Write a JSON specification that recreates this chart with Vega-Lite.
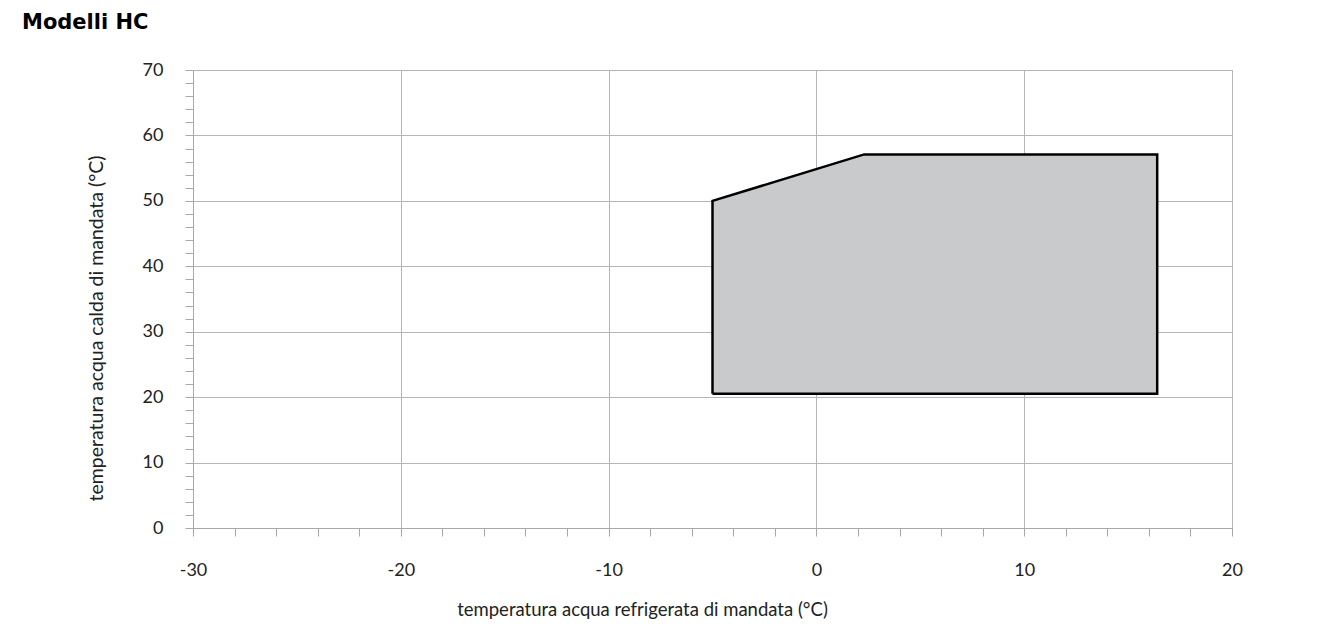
{
  "$schema": "https://vega.github.io/schema/vega-lite/v6.json",
  "width": 1039,
  "height": 458,
  "autosize": {"type": "none"},
  "padding": {"left": 193, "top": 70, "right": 87, "bottom": 100},
  "background": "white",
  "title": {
    "text": "Modelli HC",
    "anchor": "start",
    "frame": "group",
    "font": "DejaVu Sans",
    "fontSize": 21,
    "fontWeight": "bold",
    "color": "black",
    "dx": -171,
    "offset": 28
  },
  "config": {
    "view": {"stroke": "#b3b3b3", "strokeWidth": 1},
    "axis": {
      "labelFont": "Lato",
      "labelFontSize": 18,
      "labelColor": "#222",
      "titleFont": "Lato",
      "titleFontSize": 18.5,
      "titleFontWeight": "normal",
      "titleColor": "#222",
      "domainColor": "#a8a8a8",
      "tickColor": "#a8a8a8",
      "gridColor": "#b5b5b5",
      "labelOverlap": false,
      "labelBound": false,
      "labelFlush": false
    }
  },
  "datasets": {
    "fillArea": [
      {"x": -5, "y": 50, "y2": 20.5},
      {"x": 2.3, "y": 57.1, "y2": 20.5},
      {"x": 16.4, "y": 57.1, "y2": 20.5}
    ],
    "outline": [
      {"i": 0, "x": -5, "y": 20.5},
      {"i": 1, "x": -5, "y": 50},
      {"i": 2, "x": 2.3, "y": 57.1},
      {"i": 3, "x": 16.4, "y": 57.1},
      {"i": 4, "x": 16.4, "y": 20.5},
      {"i": 5, "x": -5, "y": 20.5}
    ]
  },
  "layer": [
    {
      "data": {"name": "fillArea"},
      "mark": {"type": "area", "color": "#c9cacc", "opacity": 1},
      "encoding": {
        "x": {
          "field": "x",
          "type": "quantitative",
          "scale": {"domain": [-30, 20], "nice": false, "zero": false},
          "axis": {
            "values": [-30, -28, -26, -24, -22, -20, -18, -16, -14, -12, -10, -8, -6, -4, -2, 0, 2, 4, 6, 8, 10, 12, 14, 16, 18, 20],
            "tickCount": 60,
            "labelExpr": "datum.value % 10 === 0 ? '' + datum.value : ''",
            "gridOpacity": {"condition": {"test": "datum.value % 10 === 0", "value": 1}, "value": 0},
            "tickSize": 8,
            "labelPadding": 25,
            "title": "temperatura acqua refrigerata di mandata (°C)",
            "titleX": 449,
            "titleY": 81,
            "titleBaseline": "middle",
            "titleAlign": "center"
          }
        },
        "y": {
          "field": "y",
          "type": "quantitative",
          "scale": {"domain": [0, 70], "nice": false},
          "axis": {
            "values": [0, 2, 4, 6, 8, 10, 12, 14, 16, 18, 20, 22, 24, 26, 28, 30, 32, 34, 36, 38, 40, 42, 44, 46, 48, 50, 52, 54, 56, 58, 60, 62, 64, 66, 68, 70],
            "tickCount": 60,
            "labelExpr": "datum.value % 10 === 0 ? '' + datum.value : ''",
            "gridOpacity": {"condition": {"test": "datum.value % 10 === 0", "value": 1}, "value": 0},
            "tickSize": 8,
            "labelPadding": 22,
            "title": "temperatura acqua calda di mandata (°C)",
            "titleFontSize": 19.5,
            "titleAngle": -90,
            "titleX": -97,
            "titleY": 258,
            "titleBaseline": "middle",
            "titleAlign": "center"
          }
        },
        "y2": {"field": "y2"}
      }
    },
    {
      "data": {"name": "outline"},
      "mark": {"type": "line", "color": "black", "strokeWidth": 2.5, "strokeJoin": "miter"},
      "encoding": {
        "x": {"field": "x", "type": "quantitative"},
        "y": {"field": "y", "type": "quantitative"},
        "order": {"field": "i", "type": "quantitative"}
      }
    }
  ]
}
